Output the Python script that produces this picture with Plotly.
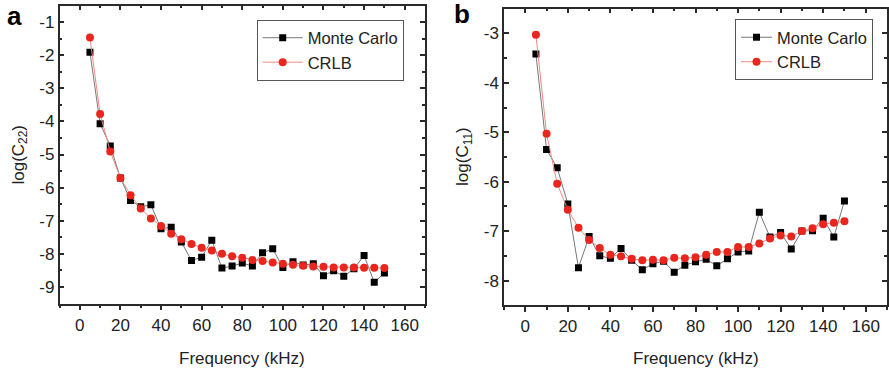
import plotly.graph_objects as go

freq = [5, 10, 15, 20, 25, 30, 35, 40, 45, 50, 55, 60, 65, 70, 75, 80, 85,
        90, 95, 100, 105, 110, 115, 120, 125, 130, 135, 140, 145, 150]

# Panel a: log(C22)
mc_a = [-1.91, -4.07, -4.74, -5.71, -6.39, -6.58, -6.52, -7.24, -7.20, -7.64,
        -8.20, -8.10, -7.59, -8.43, -8.37, -8.28, -8.37, -7.97, -7.85, -8.41,
        -8.24, -8.34, -8.30, -8.66, -8.51, -8.68, -8.45, -8.05, -8.86, -8.58]
crlb_a = [-1.47, -3.78, -4.91, -5.71, -6.23, -6.63, -6.93, -7.16, -7.39, -7.56,
          -7.70, -7.82, -7.90, -8.00, -8.07, -8.12, -8.19, -8.22, -8.26, -8.30,
          -8.33, -8.36, -8.38, -8.39, -8.41, -8.41, -8.41, -8.42, -8.42, -8.43]

# Panel b: log(C11)
mc_b = [-3.42, -5.35, -5.72, -6.45, -7.74, -7.11, -7.50, -7.55, -7.35, -7.59,
        -7.78, -7.66, -7.61, -7.83, -7.69, -7.62, -7.57, -7.70, -7.56, -7.42,
        -7.40, -6.62, -7.12, -7.03, -7.36, -7.00, -6.99, -6.74, -7.12, -6.39]
crlb_b = [-3.03, -5.03, -6.04, -6.57, -6.93, -7.18, -7.34, -7.48, -7.51, -7.56,
          -7.59, -7.58, -7.59, -7.54, -7.55, -7.53, -7.48, -7.42, -7.42, -7.32,
          -7.32, -7.25, -7.15, -7.09, -7.11, -7.00, -6.94, -6.86, -6.83, -6.80]

x_ticks = [0, 20, 40, 60, 80, 100, 120, 140, 160]
ya_ticks = [-1, -2, -3, -4, -5, -6, -7, -8, -9]
yb_ticks = [-3, -4, -5, -6, -7, -8]

W, H = 889, 368
FONT = "Liberation Sans, Arial, sans-serif"
AX = "#2a2a2a"
MC_LINE = "#777777"
RED = "#e8261e"
RED_LINE = "#f08a84"

fig = go.Figure()

def add_pair(xa, ya, mc, cr, leg):
    fig.add_trace(go.Scatter(
        x=freq, y=mc, name="Monte Carlo", mode="lines+markers",
        line=dict(color=MC_LINE, width=1),
        marker=dict(symbol="square", size=7, color="black"),
        xaxis=xa, yaxis=ya, legend=leg))
    fig.add_trace(go.Scatter(
        x=freq, y=cr, name="CRLB", mode="lines+markers",
        line=dict(color=RED_LINE, width=1),
        marker=dict(symbol="circle", size=8, color=RED),
        xaxis=xa, yaxis=ya, legend=leg))

add_pair("x", "y", mc_a, crlb_a, "legend")
add_pair("x2", "y2", mc_b, crlb_b, "legend2")

# domains in pixels
ax_dom = [59.5 / W, 425 / W]
bx_dom = [504 / W, 887 / W]
ay_dom = [1 - 303.5 / H, 1 - 5.5 / H]
by_dom = [1 - 305.3 / H, 1 - 8.6 / H]

tickfont = dict(family=FONT, size=17, color="#222")

def xbottom(dom, anchor):
    return dict(domain=dom, anchor=anchor, range=[-10, 170],
                tickvals=x_ticks, ticks="outside", ticklen=5, tickwidth=1.5,
                tickcolor=AX, showline=True, linecolor=AX, linewidth=1.5,
                showgrid=False, zeroline=False, tickfont=tickfont,
                minor=dict(dtick=10, tick0=0, ticks="outside", ticklen=3,
                           tickwidth=1.5, tickcolor=AX, showgrid=False))

def xtop(over, anchor):
    return dict(overlaying=over, anchor=anchor, side="top", range=[-10, 170],
                tickvals=x_ticks, ticks="inside", ticklen=5, tickwidth=1.5,
                tickcolor=AX, showline=True, linecolor=AX, linewidth=1.5,
                showgrid=False, zeroline=False, showticklabels=False,
                minor=dict(dtick=10, tick0=0, ticks="inside", ticklen=3,
                           tickwidth=1.5, tickcolor=AX, showgrid=False))

def yaxis(dom, anchor, rng, tv):
    return dict(domain=dom, anchor=anchor, range=rng, tickvals=tv,
                ticktext=[str(v) for v in tv],
                ticks="inside", ticklen=5, tickwidth=1.5, tickcolor=AX,
                showline=True, linecolor=AX, linewidth=1.5, mirror="ticks",
                showgrid=False, zeroline=False, tickfont=tickfont,
                minor=dict(dtick=0.5, tick0=0, ticks="inside", ticklen=3,
                           tickwidth=1.5, tickcolor=AX, showgrid=False))

legend_common = dict(
    font=dict(family=FONT, size=16.5, color="#222"),
    bgcolor="white", bordercolor="#555", borderwidth=1,
    xanchor="left", yanchor="top", tracegroupgap=0)

fig.update_layout(
    width=W, height=H,
    margin=dict(l=0, r=0, t=0, b=0),
    paper_bgcolor="white", plot_bgcolor="white",
    font=dict(family=FONT, size=17, color="#222"),
    xaxis=xbottom(ax_dom, "y"),
    xaxis2=xbottom(bx_dom, "y2"),
    xaxis3=xtop("x", "y"),
    xaxis4=xtop("x2", "y2"),
    yaxis=yaxis(ay_dom, "x", [-9.5, -0.5], ya_ticks),
    yaxis2=yaxis(by_dom, "x2", [-8.5, -2.5], yb_ticks),
    legend=dict(x=256.7 / W, y=1 - 19.5 / H, itemwidth=40, **legend_common),
    legend2=dict(x=735 / W, y=1 - 19 / H, itemwidth=31, **legend_common),
    showlegend=True,
)

# invisible traces to activate the top axes
fig.add_trace(go.Scatter(x=[None], y=[None], xaxis="x3", yaxis="y",
                         showlegend=False, hoverinfo="skip"))
fig.add_trace(go.Scatter(x=[None], y=[None], xaxis="x4", yaxis="y2",
                         showlegend=False, hoverinfo="skip"))

tfont = dict(family=FONT, size=17, color="#222")
ann = []
# x titles
ann.append(dict(text="Frequency (kHz)", x=(ax_dom[0] + ax_dom[1]) / 2,
                y=1 - 358 / H, xref="paper", yref="paper",
                xanchor="center", yanchor="middle", showarrow=False,
                font=tfont))
ann.append(dict(text="Frequency (kHz)", x=(bx_dom[0] + bx_dom[1]) / 2,
                y=1 - 358 / H, xref="paper", yref="paper",
                xanchor="center", yanchor="middle", showarrow=False,
                font=tfont))
# y titles
ann.append(dict(text="log(C<sub>22</sub>)", x=19 / W,
                y=(ay_dom[0] + ay_dom[1]) / 2, xref="paper", yref="paper",
                xanchor="center", yanchor="middle", textangle=-90,
                showarrow=False, font=tfont))
ann.append(dict(text="log(C<sub>11</sub>)", x=464 / W,
                y=(by_dom[0] + by_dom[1]) / 2, xref="paper", yref="paper",
                xanchor="center", yanchor="middle", textangle=-90,
                showarrow=False, font=tfont))
# panel letters
ann.append(dict(text="<b>a</b>", x=14.5 / W, y=1 - 16 / H, xref="paper",
                yref="paper", xanchor="center", yanchor="middle",
                showarrow=False, font=dict(family=FONT, size=26, color="black")))
ann.append(dict(text="<b>b</b>", x=462.5 / W, y=1 - 14 / H, xref="paper",
                yref="paper", xanchor="center", yanchor="middle",
                showarrow=False, font=dict(family=FONT, size=26, color="black")))
fig.update_layout(annotations=ann)

fig.write_html("out.html",
               config={"displayModeBar": False},
               post_script="document.body.style.margin='0';"
                           "document.body.style.overflow='hidden';")
